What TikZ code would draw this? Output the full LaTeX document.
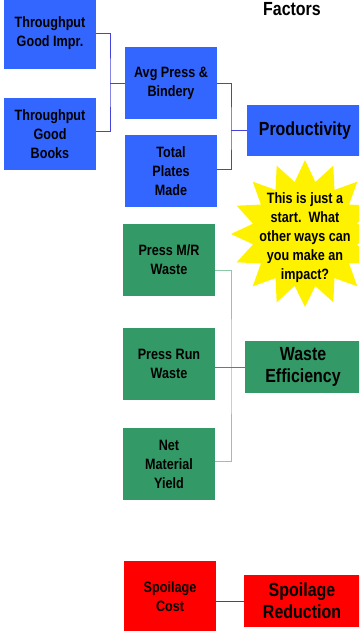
\documentclass[tikz,border=0pt]{standalone}
\usepackage{fontspec}
\setmainfont[FakeStretch=0.84]{Liberation Sans}
\usetikzlibrary{calc}
\definecolor{boxblue}{RGB}{51,102,255}
\definecolor{boxgreen}{RGB}{51,153,102}
\definecolor{linkblue}{RGB}{68,68,221}
\definecolor{linkgreen}{RGB}{140,200,170}
\tikzset{
  smallbox/.style={minimum width=92pt, minimum height=72pt, inner sep=0pt, align=center,
    font=\fontsize{15}{19}\selectfont\bfseries},
  bigbox/.style={minimum width=116pt, minimum height=52pt, inner sep=0pt, align=center,
    font=\fontsize{19}{22}\selectfont\bfseries},
  link/.style={line width=0.9pt}
}
\begin{document}
\begin{tikzpicture}[x=1pt, y=-1pt]
  \useasboundingbox (0,0) rectangle (359,631);
  \clip (0,0) rectangle (359,631);

  % 1. 标题
  \node (title) at (292,9) {\fontsize{19}{22}\selectfont\bfseries Factors};

  % 2. 生产率 (蓝色)
  \node[smallbox, fill=boxblue] (goodimpr) at (50,33) {Throughput\\Good Impr.};
  \node[smallbox, fill=boxblue] (goodbooks) at (50,134) {Throughput\\Good\\Books};
  \node[smallbox, fill=boxblue] (avgpress) at (171,83) {Avg Press \&\\Bindery};
  \node[smallbox, fill=boxblue] (plates) at (171,171) {Total\\Plates\\Made};
  \node[bigbox, fill=boxblue, minimum height=51pt] (productivity) at (305,130.5) {Productivity};
  \coordinate (jA) at (110,83);
  \coordinate (jB) at (231,130.5);
  \draw[link, linkblue] (goodimpr.east) -| (jA) |- ([yshift=3pt]goodbooks.east);
  \draw[link, linkblue] (jA) -- (avgpress.west);
  \draw[link, linkblue] (avgpress.east) -| (jB) |- ([yshift=2pt]plates.east);
  \draw[link, linkblue] (jB) -- (productivity.west);

  % 3. 提示星形
  \fill[yellow, shift={(305,234)}] (90:73)
    \foreach \i in {1,...,31} { -- ({90+\i*180/16}:{mod(\i,2)==1 ? 53 : 74}) } -- cycle;
  \node[align=center, font=\fontsize{15}{19}\selectfont\bfseries] (hint) at (305,238)
    {This is just a\\start.\ \ What\\other ways can\\you make an\\impact?};

  % 4. 废品效率 (绿色)
  \node[smallbox, fill=boxgreen] (mrwaste) at (169,260) {Press M/R\\Waste};
  \node[smallbox, fill=boxgreen] (runwaste) at (169,364) {Press Run\\Waste};
  \node[smallbox, fill=boxgreen] (netyield) at (169,464) {Net\\Material\\Yield};
  \node[bigbox, fill=boxgreen] (wasteeff) at (303,367) {Waste\\Efficiency};
  \coordinate (jC) at (231,367);
  \draw[link, linkgreen] ([yshift=-10pt]mrwaste.east) -| (jC) |- ([yshift=3pt]netyield.east);
  \draw[link, boxgreen] ([yshift=-3pt]runwaste.east) -- (wasteeff.west);

  % 5. 损耗 (红色)
  \node[smallbox, fill=red] (spoilcost) at (170,597) {Spoilage\\Cost};
  \node[bigbox, fill=red] (spoilred) at (302,601) {Spoilage\\Reduction};
  \draw[link, red] (spoilcost.east |- spoilred.west) -- (spoilred.west);
\end{tikzpicture}
\end{document}
